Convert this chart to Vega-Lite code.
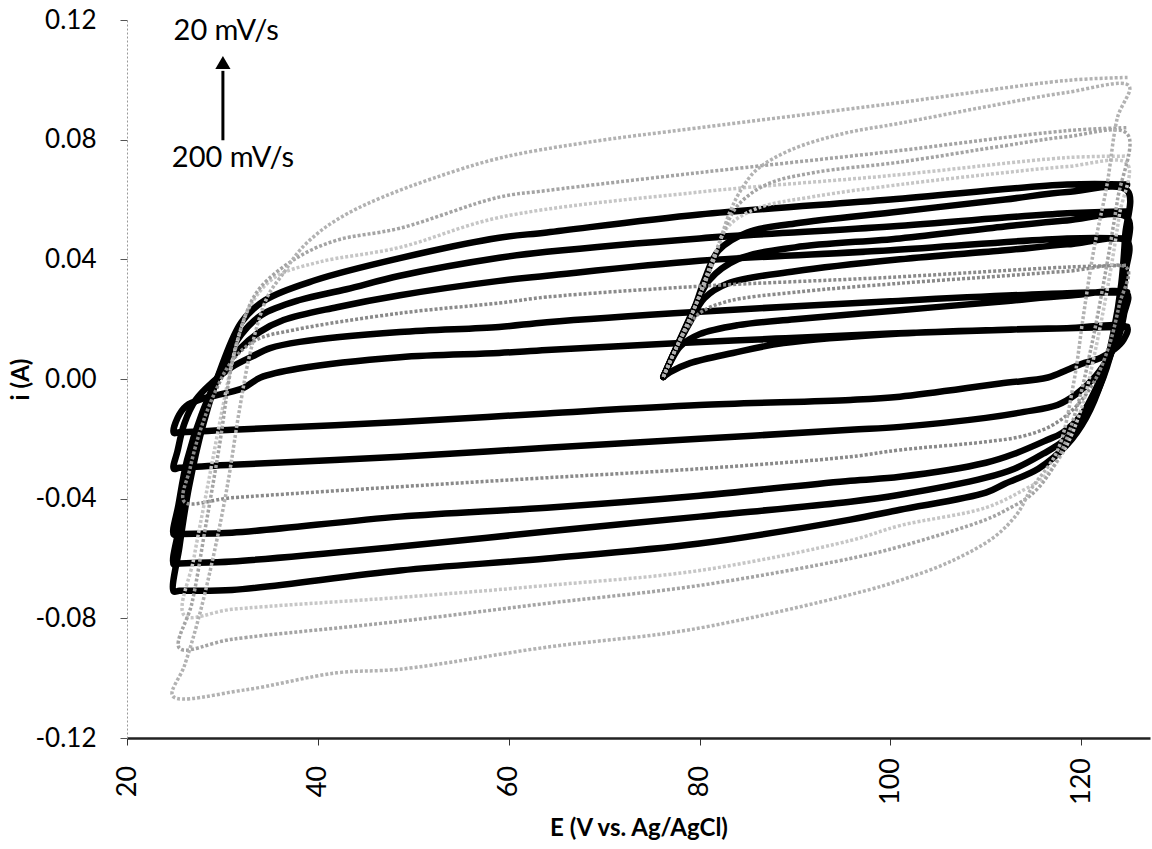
{
"$schema":"https://vega.github.io/schema/vega-lite/v6.json",
"width":1023,"height":718,
"autosize":{"type":"none"},
"padding":{"left":127,"top":20,"right":2,"bottom":111},
"background":"white",
"config":{"view":{"stroke":null},"font":"Lato"},
"datasets":{
"cv":[
{"c":1,"E":76.2,"i":0.0007},{"c":1,"E":76.9,"i":0.0023},{"c":1,"E":79,"i":0.0053},{"c":1,"E":83.5,"i":0.0087},{"c":1,"E":88.8,"i":0.012},{"c":1,"E":101,"i":0.0152},{"c":1,"E":112,"i":0.0165},{"c":1,"E":118.5,"i":0.017},{"c":1,"E":124.8,"i":0.0172},
{"c":1,"E":124.4,"i":0.013},{"c":1,"E":123.5,"i":0.01},{"c":1,"E":122,"i":0.007},{"c":1,"E":120,"i":0.005},{"c":1,"E":118.5,"i":0.003},{"c":1,"E":116.5,"i":0.0005},{"c":1,"E":111.5,"i":-0.0015},{"c":1,"E":101,"i":-0.0059},{"c":1,"E":95.8,"i":-0.007},{"c":1,"E":80,"i":-0.0087},{"c":1,"E":64,"i":-0.0115},{"c":1,"E":48.6,"i":-0.0144},{"c":1,"E":31,"i":-0.017},{"c":1,"E":25.5,"i":-0.0178},{"c":1,"E":24.9,"i":-0.018},
{"c":1,"E":25.3,"i":-0.013},{"c":1,"E":26.2,"i":-0.009},{"c":1,"E":28,"i":-0.0065},{"c":1,"E":30,"i":-0.005},{"c":1,"E":32.2,"i":-0.003},{"c":1,"E":34,"i":0.0005},{"c":1,"E":38,"i":0.0035},{"c":1,"E":48.6,"i":0.0073},{"c":1,"E":59,"i":0.0087},{"c":1,"E":64,"i":0.0097},{"c":1,"E":78,"i":0.012},{"c":1,"E":88,"i":0.0135},{"c":1,"E":100,"i":0.0152},{"c":1,"E":118.5,"i":0.017},{"c":1,"E":124.8,"i":0.0175},

{"c":2,"E":76.2,"i":0.0007},{"c":2,"E":77,"i":0.006},{"c":2,"E":78,"i":0.011},{"c":2,"E":80,"i":0.015},{"c":2,"E":84,"i":0.018},{"c":2,"E":90,"i":0.02},{"c":2,"E":101,"i":0.023},{"c":2,"E":112,"i":0.026},{"c":2,"E":118.5,"i":0.0278},{"c":2,"E":124.8,"i":0.0285},
{"c":2,"E":124.5,"i":0.022},{"c":2,"E":124,"i":0.015},{"c":2,"E":123,"i":0.008},{"c":2,"E":121.5,"i":0.001},{"c":2,"E":119.5,"i":-0.005},{"c":2,"E":117.5,"i":-0.0087},{"c":2,"E":114,"i":-0.011},{"c":2,"E":110,"i":-0.013},{"c":2,"E":101,"i":-0.016},{"c":2,"E":95.8,"i":-0.017},{"c":2,"E":80,"i":-0.02},{"c":2,"E":64,"i":-0.023},{"c":2,"E":48.6,"i":-0.026},{"c":2,"E":31,"i":-0.0287},{"c":2,"E":25.5,"i":-0.0297},{"c":2,"E":24.9,"i":-0.03},
{"c":2,"E":25.3,"i":-0.024},{"c":2,"E":26,"i":-0.015},{"c":2,"E":27.2,"i":-0.007},{"c":2,"E":29,"i":-0.001},{"c":2,"E":31,"i":0.004},{"c":2,"E":33.1,"i":0.0075},{"c":2,"E":35,"i":0.0103},{"c":2,"E":38.1,"i":0.0124},{"c":2,"E":48.6,"i":0.0157},{"c":2,"E":59,"i":0.0174},{"c":2,"E":64,"i":0.019},{"c":2,"E":80,"i":0.0225},{"c":2,"E":100,"i":0.026},{"c":2,"E":118.5,"i":0.0287},{"c":2,"E":124.8,"i":0.029},

{"c":3,"E":76.2,"i":0.0007},{"c":3,"E":77.2,"i":0.008},{"c":3,"E":78.5,"i":0.016},{"c":3,"E":80,"i":0.022},{"c":3,"E":83,"i":0.026},{"c":3,"E":90,"i":0.029},{"c":3,"E":101,"i":0.032},{"c":3,"E":112,"i":0.0345},{"c":3,"E":118.5,"i":0.036},{"c":3,"E":124.8,"i":0.037},
{"c":3,"E":124,"i":0.025},{"c":3,"E":123,"i":0.012},{"c":3,"E":121.5,"i":0},{"c":3,"E":119.5,"i":-0.009},{"c":3,"E":117,"i":-0.0154},{"c":3,"E":114,"i":-0.019},{"c":3,"E":110,"i":-0.021},{"c":3,"E":101,"i":-0.0237},{"c":3,"E":95.8,"i":-0.026},{"c":3,"E":80,"i":-0.03},{"c":3,"E":64,"i":-0.033},{"c":3,"E":48.6,"i":-0.036},{"c":3,"E":31,"i":-0.0397},{"c":3,"E":26,"i":-0.041},
{"c":3,"E":26.6,"i":-0.03},{"c":3,"E":27.6,"i":-0.018},{"c":3,"E":29,"i":-0.006},{"c":3,"E":31,"i":0.006},{"c":3,"E":33.5,"i":0.013},{"c":3,"E":37.5,"i":0.0164},{"c":3,"E":48.6,"i":0.022},{"c":3,"E":59,"i":0.0254},{"c":3,"E":64,"i":0.0274},{"c":3,"E":80,"i":0.031},{"c":3,"E":100,"i":0.034},{"c":3,"E":118.5,"i":0.0374},{"c":3,"E":124.8,"i":0.038},

{"c":4,"E":76.2,"i":0.0007},{"c":4,"E":77.5,"i":0.01},{"c":4,"E":79,"i":0.019},{"c":4,"E":80.5,"i":0.027},{"c":4,"E":83,"i":0.032},{"c":4,"E":90,"i":0.036},{"c":4,"E":101,"i":0.04},{"c":4,"E":112,"i":0.043},{"c":4,"E":118.5,"i":0.045},{"c":4,"E":124.8,"i":0.046},
{"c":4,"E":124.6,"i":0.035},{"c":4,"E":124.2,"i":0.022},{"c":4,"E":123.5,"i":0.012},{"c":4,"E":122,"i":0},{"c":4,"E":120,"i":-0.012},{"c":4,"E":118,"i":-0.018},{"c":4,"E":116.4,"i":-0.0204},{"c":4,"E":113,"i":-0.025},{"c":4,"E":110,"i":-0.028},{"c":4,"E":101,"i":-0.0327},{"c":4,"E":95.8,"i":-0.034},{"c":4,"E":80,"i":-0.039},{"c":4,"E":64,"i":-0.043},{"c":4,"E":48.6,"i":-0.046},{"c":4,"E":31,"i":-0.0514},{"c":4,"E":25.5,"i":-0.0518},{"c":4,"E":24.9,"i":-0.052},
{"c":4,"E":25.4,"i":-0.042},{"c":4,"E":26.3,"i":-0.027},{"c":4,"E":27.8,"i":-0.012},{"c":4,"E":29.8,"i":0.002},{"c":4,"E":31.8,"i":0.01},{"c":4,"E":33.9,"i":0.0157},{"c":4,"E":36.4,"i":0.0197},{"c":4,"E":42,"i":0.024},{"c":4,"E":48.6,"i":0.028},{"c":4,"E":59,"i":0.0328},{"c":4,"E":64,"i":0.0345},{"c":4,"E":80,"i":0.0395},{"c":4,"E":100,"i":0.043},{"c":4,"E":118.5,"i":0.047},{"c":4,"E":124.8,"i":0.047},

{"c":5,"E":76.2,"i":0.0007},{"c":5,"E":77.5,"i":0.01},{"c":5,"E":79.5,"i":0.024},{"c":5,"E":81,"i":0.033},{"c":5,"E":84,"i":0.04},{"c":5,"E":90,"i":0.044},{"c":5,"E":101,"i":0.047},{"c":5,"E":112,"i":0.051},{"c":5,"E":118.5,"i":0.053},{"c":5,"E":124.8,"i":0.054},
{"c":5,"E":124.6,"i":0.04},{"c":5,"E":124.2,"i":0.025},{"c":5,"E":123.4,"i":0.012},{"c":5,"E":122,"i":-0.002},{"c":5,"E":120,"i":-0.014},{"c":5,"E":118,"i":-0.021},{"c":5,"E":116,"i":-0.025},{"c":5,"E":113,"i":-0.03},{"c":5,"E":110,"i":-0.033},{"c":5,"E":101,"i":-0.0387},{"c":5,"E":95.8,"i":-0.041},{"c":5,"E":80,"i":-0.046},{"c":5,"E":64,"i":-0.051},{"c":5,"E":48.6,"i":-0.056},{"c":5,"E":31,"i":-0.061},{"c":5,"E":25.5,"i":-0.0617},{"c":5,"E":24.9,"i":-0.062},
{"c":5,"E":25.5,"i":-0.049},{"c":5,"E":26.5,"i":-0.031},{"c":5,"E":28,"i":-0.012},{"c":5,"E":30,"i":0.004},{"c":5,"E":32,"i":0.015},{"c":5,"E":34.1,"i":0.0214},{"c":5,"E":38.1,"i":0.0264},{"c":5,"E":43,"i":0.03},{"c":5,"E":48.6,"i":0.0345},{"c":5,"E":59,"i":0.0405},{"c":5,"E":64,"i":0.0425},{"c":5,"E":80,"i":0.047},{"c":5,"E":100,"i":0.051},{"c":5,"E":118.5,"i":0.0554},{"c":5,"E":124.8,"i":0.056},

{"c":6,"E":76.2,"i":0.0007},{"c":6,"E":77.5,"i":0.01},{"c":6,"E":79.5,"i":0.024},{"c":6,"E":80.5,"i":0.033},{"c":6,"E":82,"i":0.043},{"c":6,"E":85,"i":0.049},{"c":6,"E":90,"i":0.052},{"c":6,"E":101,"i":0.056},{"c":6,"E":112,"i":0.06},{"c":6,"E":118.5,"i":0.0625},{"c":6,"E":124.8,"i":0.063},
{"c":6,"E":124.6,"i":0.048},{"c":6,"E":124.2,"i":0.032},{"c":6,"E":123.4,"i":0.016},{"c":6,"E":122.2,"i":0},{"c":6,"E":120.5,"i":-0.013},{"c":6,"E":118.5,"i":-0.022},{"c":6,"E":115.5,"i":-0.03},{"c":6,"E":112,"i":-0.035},{"c":6,"E":110,"i":-0.038},{"c":6,"E":101,"i":-0.0437},{"c":6,"E":95.8,"i":-0.047},{"c":6,"E":80,"i":-0.055},{"c":6,"E":64,"i":-0.06},{"c":6,"E":48.6,"i":-0.064},{"c":6,"E":31,"i":-0.0705},{"c":6,"E":25.5,"i":-0.0708},{"c":6,"E":24.9,"i":-0.071},
{"c":6,"E":25.5,"i":-0.056},{"c":6,"E":26.5,"i":-0.036},{"c":6,"E":28,"i":-0.015},{"c":6,"E":30,"i":0.005},{"c":6,"E":32,"i":0.019},{"c":6,"E":34.5,"i":0.0264},{"c":6,"E":39.7,"i":0.033},{"c":6,"E":48.6,"i":0.0404},{"c":6,"E":59,"i":0.0472},{"c":6,"E":64,"i":0.049},{"c":6,"E":80,"i":0.055},{"c":6,"E":100,"i":0.06},{"c":6,"E":118.5,"i":0.065},{"c":6,"E":124.8,"i":0.065},

{"c":7,"E":76.2,"i":0.0007},{"c":7,"E":77.5,"i":0.01},{"c":7,"E":79.5,"i":0.024},{"c":7,"E":81.5,"i":0.041},{"c":7,"E":83,"i":0.051},{"c":7,"E":86,"i":0.057},{"c":7,"E":92,"i":0.061},{"c":7,"E":101,"i":0.065},{"c":7,"E":112,"i":0.069},{"c":7,"E":118.5,"i":0.071},{"c":7,"E":124.8,"i":0.072},
{"c":7,"E":124,"i":0.055},{"c":7,"E":123,"i":0.035},{"c":7,"E":121.5,"i":0.01},{"c":7,"E":120,"i":-0.01},{"c":7,"E":118,"i":-0.025},{"c":7,"E":116,"i":-0.033},{"c":7,"E":114,"i":-0.037},{"c":7,"E":110,"i":-0.043},{"c":7,"E":101,"i":-0.049},{"c":7,"E":95.8,"i":-0.054},{"c":7,"E":80,"i":-0.064},{"c":7,"E":64,"i":-0.069},{"c":7,"E":48.6,"i":-0.073},{"c":7,"E":31,"i":-0.077},{"c":7,"E":26,"i":-0.079},
{"c":7,"E":27,"i":-0.06},{"c":7,"E":28.5,"i":-0.035},{"c":7,"E":30,"i":-0.01},{"c":7,"E":31.5,"i":0.012},{"c":7,"E":33,"i":0.025},{"c":7,"E":35.5,"i":0.034},{"c":7,"E":40,"i":0.039},{"c":7,"E":48.6,"i":0.044},{"c":7,"E":59,"i":0.054},{"c":7,"E":80,"i":0.0625},{"c":7,"E":100,"i":0.068},{"c":7,"E":118.5,"i":0.074},{"c":7,"E":124.8,"i":0.0745},

{"c":8,"E":76.2,"i":0.0007},{"c":8,"E":77.5,"i":0.01},{"c":8,"E":79.5,"i":0.024},{"c":8,"E":81.5,"i":0.04},{"c":8,"E":82.5,"i":0.049},{"c":8,"E":84,"i":0.058},{"c":8,"E":87,"i":0.065},{"c":8,"E":92,"i":0.069},{"c":8,"E":101,"i":0.0725},{"c":8,"E":112,"i":0.078},{"c":8,"E":118.5,"i":0.081},{"c":8,"E":124.8,"i":0.082},
{"c":8,"E":123.8,"i":0.06},{"c":8,"E":122.5,"i":0.035},{"c":8,"E":121,"i":0.01},{"c":8,"E":119.5,"i":-0.01},{"c":8,"E":117.5,"i":-0.027},{"c":8,"E":115,"i":-0.038},{"c":8,"E":112,"i":-0.044},{"c":8,"E":110,"i":-0.047},{"c":8,"E":101,"i":-0.056},{"c":8,"E":95.8,"i":-0.06},{"c":8,"E":80,"i":-0.069},{"c":8,"E":64,"i":-0.075},{"c":8,"E":48.6,"i":-0.081},{"c":8,"E":31,"i":-0.087},{"c":8,"E":25.5,"i":-0.09},
{"c":8,"E":26.8,"i":-0.075},{"c":8,"E":28.2,"i":-0.05},{"c":8,"E":29.7,"i":-0.022},{"c":8,"E":31,"i":0.005},{"c":8,"E":32.5,"i":0.022},{"c":8,"E":34,"i":0.0307},{"c":8,"E":37.9,"i":0.0407},{"c":8,"E":42,"i":0.0464},{"c":8,"E":48.6,"i":0.0504},{"c":8,"E":59,"i":0.0608},{"c":8,"E":64,"i":0.063},{"c":8,"E":80,"i":0.069},{"c":8,"E":100,"i":0.076},{"c":8,"E":118.5,"i":0.083},{"c":8,"E":124.8,"i":0.084},

{"c":9,"E":76.2,"i":0.0007},{"c":9,"E":77.5,"i":0.01},{"c":9,"E":79.5,"i":0.024},{"c":9,"E":81.5,"i":0.04},{"c":9,"E":83.2,"i":0.056},{"c":9,"E":84.5,"i":0.064},{"c":9,"E":86,"i":0.07},{"c":9,"E":89.5,"i":0.0765},{"c":9,"E":95,"i":0.082},{"c":9,"E":101,"i":0.0855},{"c":9,"E":110,"i":0.091},{"c":9,"E":118.5,"i":0.0958},{"c":9,"E":125,"i":0.098},
{"c":9,"E":123.8,"i":0.0875},{"c":9,"E":122.7,"i":0.065},{"c":9,"E":121.3,"i":0.043},{"c":9,"E":120.2,"i":0.0207},{"c":9,"E":119.2,"i":-0.0013},{"c":9,"E":117.5,"i":-0.024},{"c":9,"E":114.7,"i":-0.037},{"c":9,"E":113.3,"i":-0.045},{"c":9,"E":110.8,"i":-0.053},{"c":9,"E":106.3,"i":-0.061},{"c":9,"E":101.3,"i":-0.067},{"c":9,"E":96.5,"i":-0.0715},{"c":9,"E":79,"i":-0.0838},{"c":9,"E":64.3,"i":-0.0895},{"c":9,"E":48.6,"i":-0.097},{"c":9,"E":42,"i":-0.0982},{"c":9,"E":32.2,"i":-0.104},{"c":9,"E":24.8,"i":-0.106},
{"c":9,"E":26,"i":-0.096},{"c":9,"E":27.5,"i":-0.08},{"c":9,"E":29,"i":-0.06},{"c":9,"E":30.5,"i":-0.036},{"c":9,"E":31.8,"i":-0.01},{"c":9,"E":33,"i":0.01},{"c":9,"E":34.7,"i":0.0274},{"c":9,"E":36.4,"i":0.0354},{"c":9,"E":38.1,"i":0.043},{"c":9,"E":40.5,"i":0.05},{"c":9,"E":43.4,"i":0.0558},{"c":9,"E":46.8,"i":0.0608},{"c":9,"E":52,"i":0.067},{"c":9,"E":59,"i":0.0738},{"c":9,"E":68,"i":0.079},{"c":9,"E":80,"i":0.084},{"c":9,"E":100,"i":0.092},{"c":9,"E":118.5,"i":0.0998},{"c":9,"E":125,"i":0.1008}
],
"notes":[
{"kind":"label","E":30.4,"i":0.1163,"label":"20 mV/s"},
{"kind":"label","E":31.1,"i":0.0740,"label":"200 mV/s"},
{"kind":"arrow","E":30.05,"i":0.0798,"i2":0.1030},
{"kind":"head","E":30.05,"i":0.1058}
]
},
"encoding":{
"x":{"field":"E","type":"quantitative",
"scale":{"domain":[20,127.2],"nice":false,"zero":false},
"axis":{"title":"E (V vs. Ag/AgCl)","values":[20,40,60,80,100,120],"labelAngle":270,"labelAlign":"center","labelBaseline":"middle","labelFont":"Lato","labelFontSize":27,"labelColor":"#000","labelPadding":36,"tickSize":7,"tickColor":"#333","domainColor":"#222","domainWidth":2.5,"grid":false,"titleFont":"Lato","titleFontWeight":"bold","titleFontSize":24,"titleColor":"#000","titlePadding":12}},
"y":{"field":"i","type":"quantitative",
"scale":{"domain":[-0.12,0.12],"nice":false,"zero":false},
"axis":{"title":"i (A)","values":[-0.12,-0.08,-0.04,0,0.04,0.08,0.12],"labelExpr":"replace(format(datum.value,'.2f'),'\u2212','-')","labelFont":"Lato","labelFontSize":26,"labelColor":"#000","labelPadding":24,"tickSize":7,"tickColor":"#555","domainColor":"#999","domainWidth":1,"domainDash":[2,2],"grid":false,"titleFont":"Lato","titleFontWeight":"bold","titleFontSize":24,"titleColor":"#000","titlePadding":1}}
},
"layer":[
{"data":{"name":"cv"},
"transform":[{"filter":"indexof([1,2,4,5,6], datum.c) >= 0"},{"window":[{"op":"row_number","as":"o"}],"groupby":["c"]}],
"mark":{"type":"line","interpolate":"catmull-rom","stroke":"#000","strokeWidth":6.5,"strokeCap":"round","strokeJoin":"round"},
"encoding":{"detail":{"field":"c","type":"nominal"},"order":{"field":"o","type":"quantitative"}}},
{"data":{"name":"cv"},
"transform":[{"filter":"indexof([3,7,8,9], datum.c) >= 0"},{"window":[{"op":"row_number","as":"o"}],"groupby":["c"]}],
"mark":{"type":"line","interpolate":"catmull-rom","strokeWidth":3.5,"strokeDash":[3,2]},
"encoding":{"color":{"field":"c","type":"nominal","scale":{"domain":[3,7,8,9],"range":["#8a8a8a","#c6c6c6","#a4a4a4","#b2b2b2"]},"legend":null},"detail":{"field":"c","type":"nominal"},"order":{"field":"o","type":"quantitative"}}},
{"data":{"name":"notes"},
"transform":[{"filter":"datum.kind == 'label'"}],
"mark":{"type":"text","font":"Lato","fontSize":29,"color":"#000","align":"center","baseline":"middle"},
"encoding":{"text":{"field":"label","type":"nominal"}}},
{"data":{"name":"notes"},
"transform":[{"filter":"datum.kind == 'arrow'"}],
"mark":{"type":"rule","color":"#000","strokeWidth":3},
"encoding":{"y2":{"field":"i2"}}},
{"data":{"name":"notes"},
"transform":[{"filter":"datum.kind == 'head'"}],
"mark":{"type":"point","shape":"triangle-up","filled":true,"color":"#000","size":230,"opacity":1},
"encoding":{}}
]
}
